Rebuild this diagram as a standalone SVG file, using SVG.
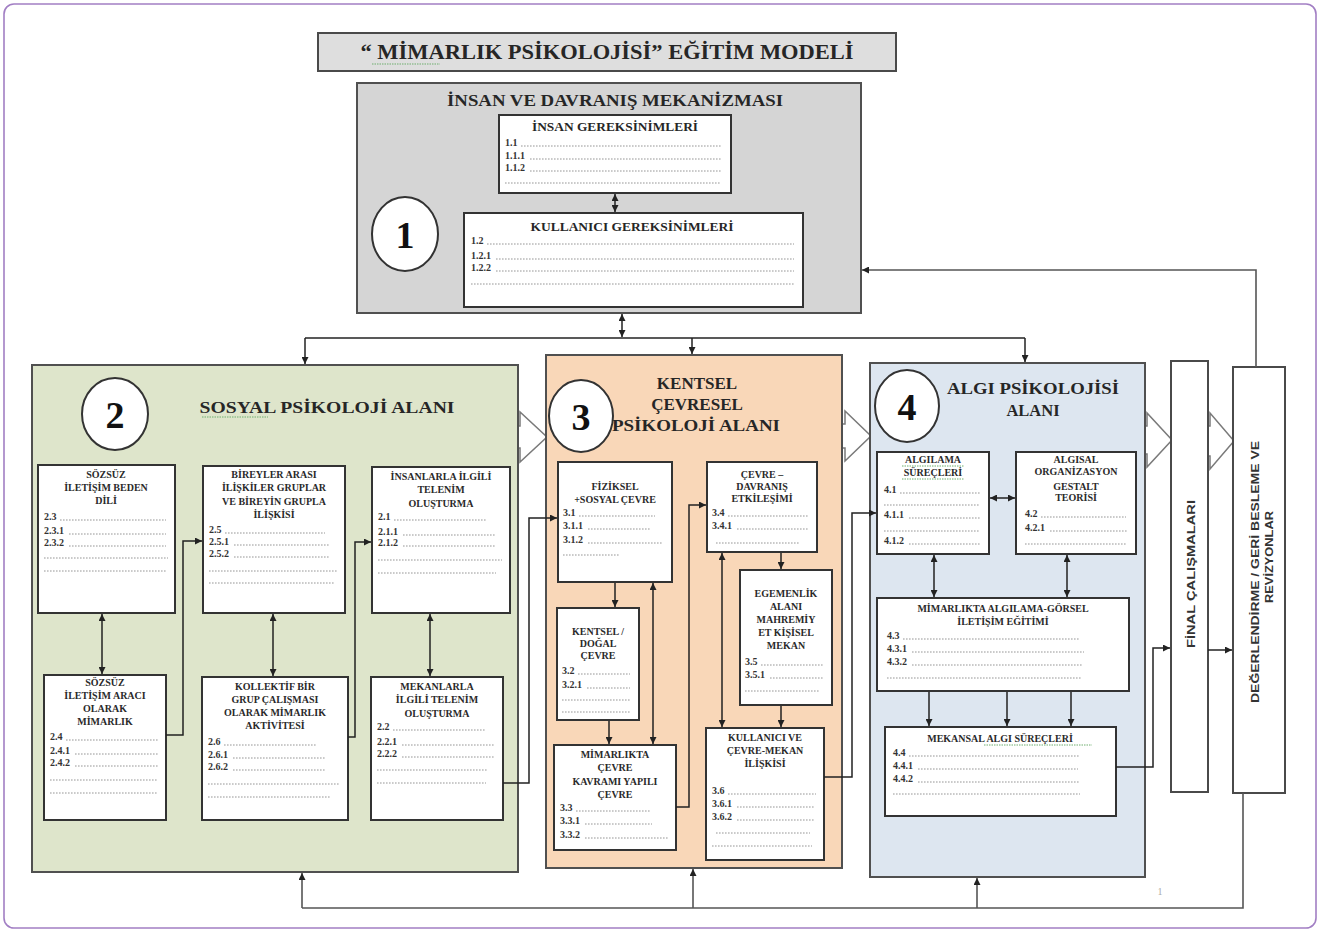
<svg xmlns="http://www.w3.org/2000/svg" width="1320" height="932" viewBox="0 0 1320 932">
<defs>
<style>
.frame{fill:#fff;stroke:#a27fc4;stroke-width:1.6}
.panel{stroke:#505050;stroke-width:2}
.inner{fill:#fff;stroke:#333;stroke-width:2}
.circ{fill:#fff;stroke:#333;stroke-width:2}
.h{font-family:"Liberation Serif",serif;font-weight:bold;fill:#262626;text-anchor:middle}
.bt{font-family:"Liberation Serif",serif;font-weight:bold;font-size:10px;fill:#2a2a2a;text-anchor:middle}
.it{font-family:"Liberation Serif",serif;font-weight:bold;font-size:10px;fill:#333}
.num{font-family:"Liberation Serif",serif;font-weight:bold;font-size:38px;fill:#111;text-anchor:middle}
.vt{font-family:"Liberation Sans",sans-serif;font-weight:bold;font-size:11px;fill:#333;text-anchor:middle}
.dot{stroke:#8a8a8a;stroke-width:0.9;stroke-dasharray:1.6 1.4;fill:none}
.conn{stroke:#222;stroke-width:1.5;fill:none}
.fb{stroke:#555;stroke-width:1.6;fill:none}
.big{fill:#fff;stroke:#7a7a7a;stroke-width:1.5}
.sq{stroke:#6fae6f;stroke-width:1;stroke-dasharray:1.5 1;fill:none}
</style>
<marker id="ah" viewBox="0 0 10 10" refX="10" refY="5" markerWidth="7" markerHeight="7" markerUnits="userSpaceOnUse" orient="auto-start-reverse"><path d="M0,0 L10,5 L0,10 z" fill="#222"/></marker>
</defs>

<rect class="frame" x="4" y="4" width="1312" height="924" rx="10"/>

<!-- hollow block arrows (behind panels) -->
<g id="block-arrows">
<polygon class="big" points="500,426 520,426 520,412 547,437 520,462 520,448 500,448"/>
<polygon class="big" points="825,424 845,424 845,411 871,436 845,461 845,448 825,448"/>
<polygon class="big" points="1130,426 1147,426 1147,413 1172,440 1147,467 1147,454 1130,454"/>
<polygon class="big" points="1195,426 1210,426 1210,413 1234,441 1210,469 1210,456 1195,456"/>
</g>

<g id="title">
<rect x="318" y="33" width="578" height="38" fill="#dedede" stroke="#4a4a4a" stroke-width="2"/>
<text class="h" x="607" y="59" font-size="20" textLength="493" lengthAdjust="spacingAndGlyphs">“ MİMARLIK PSİKOLOJİSİ” EĞİTİM MODELİ</text>
<path class="sq" d="M372,64 H440"/>
</g>

<g id="node1">
<rect class="panel" x="357" y="83" width="504" height="230" fill="#d5d5d5"/>
<text class="h" x="615" y="106" font-size="16" textLength="336" lengthAdjust="spacingAndGlyphs">İNSAN VE DAVRANIŞ MEKANİZMASI</text>
<ellipse class="circ" cx="405" cy="234" rx="33" ry="37"/>
<text class="num" x="405" y="248">1</text>
</g>
<g id="node1-insan">
<rect class="inner" x="499" y="115" width="232" height="78" fill="#f5f5f5"/>
<text class="h" x="615" y="131" font-size="11.5" textLength="166" lengthAdjust="spacingAndGlyphs">İNSAN GEREKSİNİMLERİ</text>
<text class="it" x="505" y="146">1.1</text><path class="dot" d="M521,146 H721"/>
<text class="it" x="505" y="159">1.1.1</text><path class="dot" d="M530,159 H721"/>
<text class="it" x="505" y="171">1.1.2</text><path class="dot" d="M530,171 H721"/>
<path class="dot" d="M505,183 H721"/>
</g>
<g id="node1-kullanici">
<rect class="inner" x="464" y="213" width="339" height="94" fill="#f5f5f5"/>
<text class="h" x="632" y="231" font-size="12" textLength="203" lengthAdjust="spacingAndGlyphs">KULLANICI GEREKSİNİMLERİ</text>
<text class="it" x="471" y="244">1.2</text><path class="dot" d="M487,244 H794"/>
<text class="it" x="471" y="259">1.2.1</text><path class="dot" d="M496,259 H794"/>
<text class="it" x="471" y="271">1.2.2</text><path class="dot" d="M496,271 H794"/>
<path class="dot" d="M471,284 H794"/>
</g>

<g id="node2">
<rect class="panel" x="32" y="365" width="486" height="507" fill="#dee5cb"/>
<ellipse class="circ" cx="115" cy="414" rx="33" ry="36"/>
<text class="num" x="115" y="428">2</text>
<text class="h" x="327" y="413" font-size="16.5" fill="#2c3a2a" textLength="255" lengthAdjust="spacingAndGlyphs">SOSYAL  PSİKOLOJİ ALANI</text>
<path class="sq" d="M202,417 H268"/>
</g>
<g id="node2-a">
<rect class="inner" x="38" y="465" width="137" height="148"/>
<text class="bt" x="106" y="478">SÖZSÜZ</text>
<text class="bt" x="106" y="491">İLETİŞİM BEDEN</text>
<text class="bt" x="106" y="504">DİLİ</text>
<text class="it" x="44" y="520">2.3</text><path class="dot" d="M60,520 H166"/>
<text class="it" x="44" y="534">2.3.1</text><path class="dot" d="M69,534 H166"/>
<text class="it" x="44" y="546">2.3.2</text><path class="dot" d="M69,546 H166"/>
<path class="dot" d="M44,558 H168"/><path class="dot" d="M44,571 H166"/>
</g>
<g id="node2-b">
<rect class="inner" x="203" y="466" width="142" height="147"/>
<text class="bt" x="274" y="478">BİREYLER ARASI</text>
<text class="bt" x="274" y="491">İLİŞKİLER GRUPLAR</text>
<text class="bt" x="274" y="505">VE BİREYİN GRUPLA</text>
<text class="bt" x="274" y="518">İLİŞKİSİ</text>
<text class="it" x="209" y="533">2.5</text><path class="dot" d="M225,533 H325"/>
<text class="it" x="209" y="545">2.5.1</text><path class="dot" d="M234,545 H330"/>
<text class="it" x="209" y="557">2.5.2</text><path class="dot" d="M234,557 H330"/>
<path class="dot" d="M209,571 H337"/><path class="dot" d="M209,583 H334"/>
</g>
<g id="node2-c">
<rect class="inner" x="372" y="467" width="138" height="146"/>
<text class="bt" x="441" y="480">İNSANLARLA İLGİLİ</text>
<text class="bt" x="441" y="493">TELENİM</text>
<text class="bt" x="441" y="507">OLUŞTURMA</text>
<text class="it" x="378" y="520">2.1</text><path class="dot" d="M394,520 H487"/>
<text class="it" x="378" y="535">2.1.1</text><path class="dot" d="M403,535 H495"/>
<text class="it" x="378" y="546">2.1.2</text><path class="dot" d="M403,546 H495"/>
<path class="dot" d="M378,560 H502"/><path class="dot" d="M378,573 H496"/>
</g>
<g id="node2-d">
<rect class="inner" x="44" y="675" width="122" height="145"/>
<text class="bt" x="105" y="686">SÖZSÜZ</text>
<text class="bt" x="105" y="699">İLETİŞİM ARACI</text>
<text class="bt" x="105" y="712">OLARAK</text>
<text class="bt" x="105" y="725">MİMARLIK</text>
<text class="it" x="50" y="740">2.4</text><path class="dot" d="M66,740 H158"/>
<text class="it" x="50" y="754">2.4.1</text><path class="dot" d="M75,754 H158"/>
<text class="it" x="50" y="766">2.4.2</text><path class="dot" d="M75,766 H158"/>
<path class="dot" d="M50,780 H158"/><path class="dot" d="M50,793 H158"/>
</g>
<g id="node2-e">
<rect class="inner" x="202" y="677" width="146" height="143"/>
<text class="bt" x="275" y="690">KOLLEKTİF BİR</text>
<text class="bt" x="275" y="703">GRUP ÇALIŞMASI</text>
<text class="bt" x="275" y="716">OLARAK MİMARLIK</text>
<text class="bt" x="275" y="729">AKTİVİTESİ</text>
<text class="it" x="208" y="745">2.6</text><path class="dot" d="M224,745 H316"/>
<text class="it" x="208" y="758">2.6.1</text><path class="dot" d="M233,758 H326"/>
<text class="it" x="208" y="770">2.6.2</text><path class="dot" d="M233,770 H326"/>
<path class="dot" d="M208,784 H340"/><path class="dot" d="M208,797 H330"/>
</g>
<g id="node2-f">
<rect class="inner" x="371" y="677" width="132" height="143"/>
<text class="bt" x="437" y="690">MEKANLARLA</text>
<text class="bt" x="437" y="703">İLGİLİ TELENİM</text>
<text class="bt" x="437" y="717">OLUŞTURMA</text>
<text class="it" x="377" y="730">2.2</text><path class="dot" d="M393,730 H486"/>
<text class="it" x="377" y="745">2.2.1</text><path class="dot" d="M402,745 H494"/>
<text class="it" x="377" y="757">2.2.2</text><path class="dot" d="M402,757 H494"/>
<path class="dot" d="M377,770 H488"/><path class="dot" d="M377,783 H486"/>
</g>

<g id="node3">
<rect class="panel" x="546" y="355" width="296" height="513" fill="#f9d7b8" stroke="#5e4b3e"/>
<ellipse class="circ" cx="581" cy="416" rx="32" ry="36"/>
<text class="num" x="581" y="430">3</text>
<text class="h" x="697" y="389" font-size="17">KENTSEL</text>
<text class="h" x="697" y="410" font-size="17">ÇEVRESEL</text>
<text class="h" x="696" y="431" font-size="17" textLength="168" lengthAdjust="spacingAndGlyphs">PSİKOLOJİ ALANI</text>
</g>
<g id="node3-g">
<rect class="inner" x="558" y="462" width="114" height="120"/>
<text class="bt" x="615" y="490">FİZİKSEL</text>
<text class="bt" x="615" y="503">+SOSYAL ÇEVRE</text>
<text class="it" x="563" y="516">3.1</text><path class="dot" d="M579,516 H655"/>
<text class="it" x="563" y="529">3.1.1</text><path class="dot" d="M588,529 H650"/>
<text class="it" x="563" y="543">3.1.2</text><path class="dot" d="M588,543 H662"/>
<path class="dot" d="M563,555 H620"/>
</g>
<g id="node3-h">
<rect class="inner" x="707" y="462" width="110" height="90"/>
<text class="bt" x="762" y="478">ÇEVRE –</text>
<text class="bt" x="762" y="490">DAVRANIŞ</text>
<text class="bt" x="762" y="502">ETKİLEŞİMİ</text>
<text class="it" x="712" y="516">3.4</text><path class="dot" d="M728,516 H808"/>
<text class="it" x="712" y="529">3.4.1</text><path class="dot" d="M737,529 H808"/>
<path class="dot" d="M716,543 H800"/>
</g>
<g id="node3-i">
<rect class="inner" x="740" y="570" width="92" height="135"/>
<text class="bt" x="786" y="597">EGEMENLİK</text>
<text class="bt" x="786" y="610">ALANI</text>
<text class="bt" x="786" y="623">MAHREMİY</text>
<text class="bt" x="786" y="636">ET KİŞİSEL</text>
<text class="bt" x="786" y="649">MEKAN</text>
<text class="it" x="745" y="665">3.5</text><path class="dot" d="M761,665 H824"/>
<text class="it" x="745" y="678">3.5.1</text><path class="dot" d="M770,678 H824"/>
<path class="dot" d="M745,691 H820"/>
</g>
<g id="node3-j">
<rect class="inner" x="557" y="608" width="82" height="112"/>
<text class="bt" x="598" y="635">KENTSEL /</text>
<text class="bt" x="598" y="647">DOĞAL</text>
<text class="bt" x="598" y="659">ÇEVRE</text>
<text class="it" x="562" y="674">3.2</text><path class="dot" d="M578,674 H630"/>
<text class="it" x="562" y="688">3.2.1</text><path class="dot" d="M587,688 H630"/>
<path class="dot" d="M562,700 H630"/><path class="dot" d="M562,712 H630"/>
</g>
<g id="node3-k">
<rect class="inner" x="554" y="745" width="122" height="105"/>
<text class="bt" x="615" y="758">MİMARLIKTA</text>
<text class="bt" x="615" y="771">ÇEVRE</text>
<text class="bt" x="615" y="785">KAVRAMI YAPILI</text>
<text class="bt" x="615" y="798">ÇEVRE</text>
<text class="it" x="560" y="811">3.3</text><path class="dot" d="M576,811 H650"/>
<text class="it" x="560" y="824">3.3.1</text><path class="dot" d="M585,824 H652"/>
<text class="it" x="560" y="838">3.3.2</text><path class="dot" d="M585,838 H668"/>
</g>
<g id="node3-l">
<rect class="inner" x="706" y="728" width="118" height="132"/>
<text class="bt" x="765" y="741">KULLANICI VE</text>
<text class="bt" x="765" y="754">ÇEVRE-MEKAN</text>
<text class="bt" x="765" y="767">İLİŞKİSİ</text>
<text class="it" x="712" y="794">3.6</text><path class="dot" d="M728,794 H816"/>
<text class="it" x="712" y="807">3.6.1</text><path class="dot" d="M737,807 H814"/>
<text class="it" x="712" y="820">3.6.2</text><path class="dot" d="M737,820 H814"/>
<path class="dot" d="M716,833 H810"/><path class="dot" d="M712,846 H812"/>
</g>

<g id="node4">
<rect class="panel" x="870" y="363" width="275" height="514" fill="#dde6f0" stroke="#5a5f66"/>
<ellipse class="circ" cx="907" cy="406" rx="32" ry="36"/>
<text class="num" x="907" y="420">4</text>
<text class="h" x="1033" y="394" font-size="16.5" textLength="172" lengthAdjust="spacingAndGlyphs">ALGI PSİKOLOJİSİ</text>
<text class="h" x="1033" y="416" font-size="16.5">ALANI</text>
</g>
<g id="node4-m">
<rect class="inner" x="877" y="452" width="112" height="102"/>
<text class="bt" x="933" y="463">ALGILAMA</text>
<text class="bt" x="933" y="476">SÜREÇLERİ</text>
<path class="sq" d="M902,466 H964 M902,479 H964"/>
<text class="it" x="884" y="493">4.1</text><path class="dot" d="M900,493 H980"/>
<path class="dot" d="M884,505 H980"/>
<text class="it" x="884" y="518">4.1.1</text><path class="dot" d="M909,518 H980"/>
<path class="dot" d="M884,531 H980"/>
<text class="it" x="884" y="544">4.1.2</text><path class="dot" d="M909,544 H980"/>
</g>
<g id="node4-n">
<rect class="inner" x="1016" y="452" width="120" height="102"/>
<text class="bt" x="1076" y="463">ALGISAL</text>
<text class="bt" x="1076" y="475">ORGANİZASYON</text>
<text class="bt" x="1076" y="490">GESTALT</text>
<text class="bt" x="1076" y="501">TEORİSİ</text>
<text class="it" x="1025" y="517">4.2</text><path class="dot" d="M1041,517 H1126"/>
<text class="it" x="1025" y="531">4.2.1</text><path class="dot" d="M1050,531 H1128"/>
<path class="dot" d="M1025,544 H1126"/>
</g>
<g id="node4-o">
<rect class="inner" x="877" y="598" width="252" height="93"/>
<text class="bt" x="1003" y="612" font-size="10.5">MİMARLIKTA ALGILAMA-GÖRSEL</text>
<text class="bt" x="1003" y="625" font-size="10.5">İLETİŞİM EĞİTİMİ</text>
<text class="it" x="887" y="639">4.3</text><path class="dot" d="M903,639 H1080"/>
<text class="it" x="887" y="652">4.3.1</text><path class="dot" d="M912,652 H1084"/>
<text class="it" x="887" y="665">4.3.2</text><path class="dot" d="M912,665 H1082"/>
<path class="dot" d="M887,678 H1082"/>
</g>
<g id="node4-p">
<rect class="inner" x="885" y="727" width="231" height="89"/>
<text class="bt" x="1000" y="742" font-size="10.5">MEKANSAL ALGI SÜREÇLERİ</text>
<path class="sq" d="M984,745 H1092"/>
<text class="it" x="893" y="756">4.4</text><path class="dot" d="M909,756 H1080"/>
<text class="it" x="893" y="769">4.4.1</text><path class="dot" d="M918,769 H1078"/>
<text class="it" x="893" y="782">4.4.2</text><path class="dot" d="M918,782 H1080"/>
<path class="dot" d="M893,794 H1080"/>
</g>

<g id="node-final">
<rect x="1171" y="361" width="37" height="431" fill="#fff" stroke="#4a4a4a" stroke-width="2"/>
<text class="vt" x="1195" y="574" transform="rotate(-90 1195 574)" fill="#2f4a30" textLength="148" lengthAdjust="spacingAndGlyphs">FİNAL ÇALIŞMALARI</text>
</g>
<g id="node-degerlendirme">
<rect x="1233" y="367" width="52" height="426" fill="#fff" stroke="#4a4a4a" stroke-width="2"/>
<text class="vt" x="1259" y="572" transform="rotate(-90 1259 572)" textLength="262" lengthAdjust="spacingAndGlyphs">DEĞERLENDİRME / GERİ BESLEME VE</text>
<text class="vt" x="1273" y="557" transform="rotate(-90 1273 557)" textLength="92" lengthAdjust="spacingAndGlyphs">REVİZYONLAR</text>
</g>

<g id="connectors">
<path class="conn" d="M615,194 V212" marker-start="url(#ah)" marker-end="url(#ah)"/>
<path class="conn" d="M622,314 V337" marker-start="url(#ah)" marker-end="url(#ah)"/>
<path class="conn" d="M305,338 H1025"/>
<path class="conn" d="M305,338 V364" marker-end="url(#ah)"/>
<path class="conn" d="M692,338 V354" marker-end="url(#ah)"/>
<path class="conn" d="M1025,338 V362" marker-end="url(#ah)"/>

<path class="conn" d="M102,614 V674" marker-start="url(#ah)" marker-end="url(#ah)"/>
<path class="conn" d="M273,614 V676" marker-start="url(#ah)" marker-end="url(#ah)"/>
<path class="conn" d="M430,614 V676" marker-start="url(#ah)" marker-end="url(#ah)"/>
<path class="conn" d="M166,735 H183 V541 H202" marker-end="url(#ah)"/>
<path class="conn" d="M348,737 H355 V542 H371" marker-end="url(#ah)"/>
<path class="conn" d="M503,783 H529 V518 H557" marker-end="url(#ah)"/>

<path class="conn" d="M615,583 V607" marker-end="url(#ah)"/>
<path class="conn" d="M609,721 V744" marker-end="url(#ah)"/>
<path class="conn" d="M653,744 V583" marker-start="url(#ah)" marker-end="url(#ah)"/>
<path class="conn" d="M676,807 H689 V505 H706" marker-end="url(#ah)"/>
<path class="conn" d="M722,553 V727" marker-start="url(#ah)" marker-end="url(#ah)"/>
<path class="conn" d="M781,553 V569" marker-end="url(#ah)"/>
<path class="conn" d="M781,706 V727" marker-end="url(#ah)"/>
<path class="conn" d="M824,777 H852 V513 H876" marker-end="url(#ah)"/>

<path class="conn" d="M990,498 H1015" marker-start="url(#ah)" marker-end="url(#ah)"/>
<path class="conn" d="M934,555 V597" marker-start="url(#ah)" marker-end="url(#ah)"/>
<path class="conn" d="M1067,555 V597" marker-start="url(#ah)" marker-end="url(#ah)"/>
<path class="conn" d="M929,692 V726" marker-end="url(#ah)"/>
<path class="conn" d="M1007,692 V726" marker-end="url(#ah)"/>
<path class="conn" d="M1071,692 V726" marker-end="url(#ah)"/>
<path class="conn" d="M1116,767 H1153 V648 H1170" marker-end="url(#ah)"/>
<path class="conn" d="M1208,650 H1232" marker-end="url(#ah)"/>

<path class="fb" d="M1256,367 V270 H862" marker-end="url(#ah)"/>
<path class="fb" d="M1243,793 V908 H302"/>
<path class="fb" d="M302,908 V873" marker-end="url(#ah)"/>
<path class="fb" d="M693,908 V869" marker-end="url(#ah)"/>
<path class="fb" d="M977,908 V878" marker-end="url(#ah)"/>
</g>

<text x="1160" y="895" font-family="Liberation Serif, serif" font-size="10" fill="#aaa" text-anchor="middle">1</text>
</svg>
